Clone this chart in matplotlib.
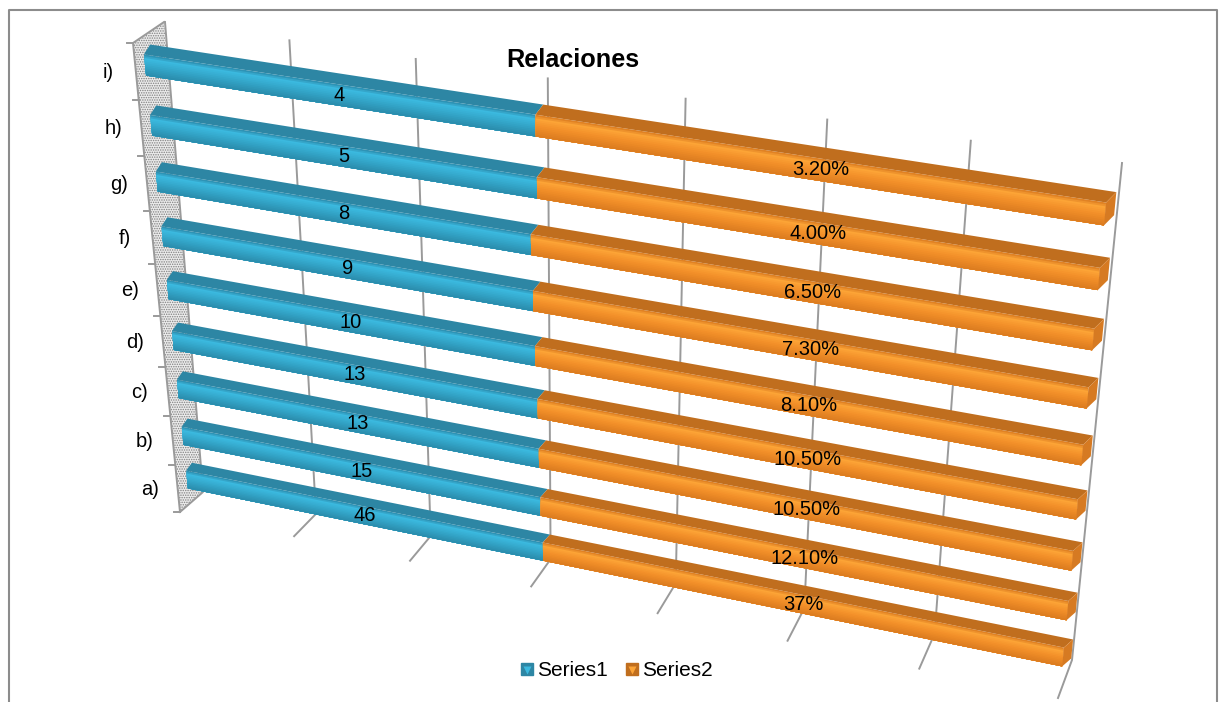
import numpy as np
import matplotlib
matplotlib.use("Agg")
import matplotlib.pyplot as plt
from matplotlib.lines import Line2D
from matplotlib.patches import Patch
from matplotlib.legend_handler import HandlerTuple
from matplotlib.transforms import Transform
from matplotlib.colors import to_rgb

plt.rcParams['font.family'] = ['Liberation Sans', 'DejaVu Sans']
plt.rcParams['hatch.linewidth'] = 0.7

#data, bottom row first
categories = ["a)", "b)", "c)", "d)", "e)", "f)", "g)", "h)", "i)"]
series1 = [46, 15, 13, 13, 10, 9, 8, 5, 4]
series2 = [37, 12.1, 10.5, 10.5, 8.1, 7.3, 6.5, 4.0, 3.2]
series2_labels = ["37%", "12.10%", "10.50%", "10.50%", "8.10%", "7.30%", "6.50%", "4.00%", "3.20%"]
grid_pos = [0, 0.13, 0.262, 0.40, 0.544, 0.692, 0.842, 1]

#row position on the tilted plane, the rows get closer towards the bottom
row_pos = [0, 0.114, 0.234, 0.355, 0.48, 0.608, 0.736, 0.865, 1.0]
#pixel heights of the ticks on the left axis
axis_ticks = [43, 100, 156, 211, 264, 316, 367, 416, 465, 512]

BAR_H = 0.047
TOP_DV = 0.024
TOP_DU = 0.0085

blue_front = ['#2e93b5', '#3bb9df', '#35aacd', '#2b8eae']
orange_front = ['#e08224', '#fca436', '#f4912a', '#dd7d20']
blue_top, blue_cap = '#2d86a4', '#2a86a6'
orange_top, orange_cap = '#c06e1e', '#d67a22'
line_col = '#9a9a9a'


def homography(src, dst):
    #solve the 3x3 matrix taking the 4 src corners to the 4 dst corners
    A, b = [], []
    for (u, v), (x, y) in zip(src, dst):
        A.append([u, v, 1, 0, 0, 0, -u*x, -v*x])
        A.append([0, 0, 0, u, v, 1, -u*y, -v*y])
        b += [x, y]
    h = np.linalg.solve(np.array(A, float), np.array(b, float))
    return np.append(h, 1).reshape(3, 3)


class Tilt(Transform):
    input_dims = 2
    output_dims = 2
    is_separable = False
    has_inverse = False

    def __init__(self, matrix):
        super().__init__()
        self.matrix = matrix

    def transform_non_affine(self, values):
        values = np.asarray(values, float)
        p = np.column_stack([values, np.ones(len(values))]) @ self.matrix.T
        return p[:, :2] / p[:, 2:]


fig = plt.figure(figsize=(12.24, 7.02), dpi=100)
ax = fig.add_axes([0, 0, 1, 1])
ax.axis('off')

tilt = Tilt(homography([(0, 0), (1, 0), (0, 1), (1, 1)],
                       [(187, 479.5), (1063, 657), (145, 65), (1105, 214)])) + ax.transData


def axis_x(y):
    return 133 + (np.asarray(y, float) - 43) * 0.1002


#chart border
ax.plot([9, 9, 1217, 1217], [702, 10, 10, 702], color='#8c8c8c', lw=1.5, zorder=1)

#side wall
ax.fill([133, 164, 203, 180], [43, 22, 492, 512], facecolor='#ebebeb', edgecolor='#808080',
        hatch='.......', lw=0, zorder=1)
ax.plot([axis_x(512), axis_x(43), 164], [512, 43, 22], color=line_col, lw=1.4, zorder=2)
for y in axis_ticks:
    ax.plot([axis_x(y) - 6, axis_x(y)], [y, y], color=line_col, lw=1.4, zorder=2)

#gridlines, wall part then floor part
for g in grid_pos:
    top = (165 + g*957, 22 + g*141)
    knee = (203 + g*869, 492 + g*168)
    tip = (180 + g*878, 512 + g*186)
    ax.plot([top[0], knee[0], tip[0]], [top[1], knee[1], tip[1]], color=line_col, lw=1.4, zorder=2)


def shade(stops, n=12):
    rgb = np.array([to_rgb(c) for c in stops])
    t = np.linspace(0, 1, n)
    knots = [0, 0.18, 0.5, 1]
    return [tuple(np.interp(a, knots, rgb[:, i]) for i in range(3)) for a in t]


def draw_segment(u0, u1, v, front, top, cap=None):
    #front face as stacked bars, each one painted over the one before, for the shaded look
    cols = shade(front)
    yb = v - BAR_H/2
    for i, c in enumerate(cols):
        h = BAR_H * (1 - i/len(cols))
        ax.barh(yb, u1 - u0, height=h, left=u0, align='edge', color=c, lw=0,
                transform=tilt, zorder=3)
    yt = v + BAR_H/2
    ax.fill([u0, u1, u1 + TOP_DU, u0 + TOP_DU], [yt, yt, yt + TOP_DV, yt + TOP_DV],
            color=top, lw=0, transform=tilt, zorder=3)
    if cap:
        ax.fill([u1, u1 + TOP_DU, u1 + TOP_DU, u1], [yt, yt + TOP_DV, yb + TOP_DV, yb],
                color=cap, lw=0, transform=tilt, zorder=3)


#bars
for i, v in enumerate(row_pos):
    share = series1[i] / (series1[i] + series2[i])
    #the split sits around 42% of the axis
    split = 0.4247 + (share - 0.5517)*2.1
    draw_segment(0, split, v, blue_front, blue_top)
    draw_segment(split, 1, v, orange_front, orange_top, cap=orange_cap)
    ax.text(split/2 + 0.004, v, str(series1[i]), transform=tilt, ha='center', va='center',
            fontsize=14.5, color='black', zorder=5)
    ax.text((split + 1)/2 + 0.009, v, series2_labels[i], transform=tilt, ha='center', va='center',
            fontsize=14.5, color='black', zorder=5)
    mid = (axis_ticks[8 - i] + axis_ticks[9 - i]) / 2
    ax.text(axis_x(mid) - 28, mid + 1, categories[i], ha='center', va='center', fontsize=14.5, zorder=5)

ax.text(573, 60, "Relaciones", ha='center', va='center', fontsize=18.2, fontweight='bold', zorder=5)

#legend
handles = [(Patch(facecolor=blue_top, edgecolor=blue_top),
            Line2D([], [], marker='v', ms=6, mfc='#3bb9df', mec='none', ls='none')),
           (Patch(facecolor=orange_top, edgecolor=orange_top),
            Line2D([], [], marker='v', ms=6, mfc='#fca436', mec='none', ls='none'))]
ax.legend(handles, ["Series1", "Series2"], ncol=2, frameon=False, fontsize=15,
          handler_map={tuple: HandlerTuple(ndivide=1, pad=0)},
          handlelength=0.55, handleheight=0.55, handletextpad=0.2, columnspacing=0.9,
          loc='center', bbox_to_anchor=(617/1224, 1 - 671/702), bbox_transform=fig.transFigure,
          borderpad=0, borderaxespad=0)

ax.set_xlim(0, 1224)
ax.set_ylim(702, 0)

fig.savefig("out.png", dpi=100)
